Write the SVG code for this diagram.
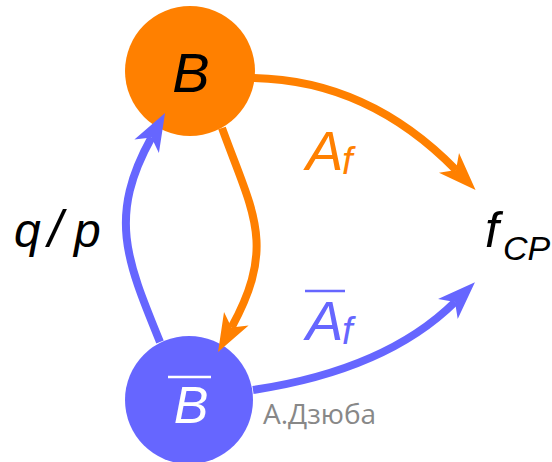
<svg xmlns="http://www.w3.org/2000/svg" width="552" height="462" viewBox="0 0 552 462">
<style>
.math{font-family:"Liberation Sans",Arial,sans-serif;font-style:italic}
.orange{fill:#ff8000}
.blue{fill:#6666ff}
.eo{fill:none;stroke:#ff8000;stroke-width:8}
.eb{fill:none;stroke:#6666ff;stroke-width:8}
</style>
<defs>
<marker id="ao" markerUnits="userSpaceOnUse" markerWidth="42" markerHeight="32" viewBox="-12 -16 42 32" refX="0" refY="0" orient="auto">
<path d="M28,0 L-10,-14 L0,0 L-10,14 Z" fill="#ff8000"/>
</marker>
<marker id="ab" markerUnits="userSpaceOnUse" markerWidth="42" markerHeight="32" viewBox="-12 -16 42 32" refX="0" refY="0" orient="auto">
<path d="M28,0 L-10,-14 L0,0 L-10,14 Z" fill="#6666ff"/>
</marker>
</defs>
<g id="nodeB">
<circle cx="190" cy="71" r="65" class="orange"/>
<text x="191" y="92" class="math" font-size="56" text-anchor="middle" fill="#000">B</text>
</g>
<g id="nodeBbar">
<circle cx="189" cy="400" r="64" class="blue"/>
<line x1="168" y1="377" x2="211" y2="377" stroke="#fff" stroke-width="2.5"/>
<text x="191" y="423" class="math" font-size="52" text-anchor="middle" fill="#fff">B</text>
</g>
<g id="nodeFCP">
<text class="math" fill="#000"><tspan x="485" y="247" font-size="50">f</tspan><tspan x="503" y="260" font-size="34">CP</tspan></text>
</g>
<g id="connectors">
<path class="eo" d="M253,78 Q368,80 456,170" marker-end="url(#ao)"/>
<path class="eb" d="M253,390 Q386,370 455,302" marker-end="url(#ab)"/>
<path class="eb" d="M160,342 C126,259 108,216 151.5,137.5" marker-end="url(#ab)"/>
<path class="eo" d="M222,128 C252.6,212.6 277,244.4 231.5,327.5" marker-end="url(#ao)"/>
</g>
<g id="labels">
<text class="math orange" font-size="56"><tspan x="306" y="170">A</tspan><tspan x="342" y="174" font-size="38">f</tspan></text>
<line x1="305" y1="291" x2="345" y2="291" stroke="#6666ff" stroke-width="2.5"/>
<text class="math blue" font-size="56"><tspan x="306" y="340">A</tspan><tspan x="342" y="344" font-size="38">f</tspan></text>
<text class="math" font-size="48" fill="#000"><tspan x="14" y="247">q</tspan><tspan x="48" y="247" font-size="52">/</tspan><tspan x="74" y="247">p</tspan></text>
</g>
<text x="263" y="424" font-family="'Open Sans',sans-serif" font-size="28" fill="#888">А.Дзюба</text>
</svg>
